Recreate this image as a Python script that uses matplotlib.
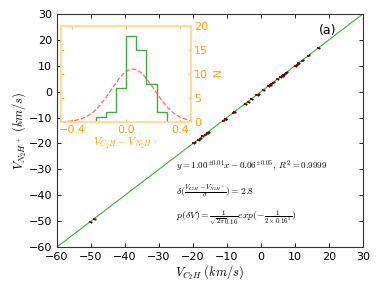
import numpy as np
import matplotlib
matplotlib.use("Agg")
import matplotlib.pyplot as plt

plt.rcParams['mathtext.fontset'] = 'cm'

# velocities (km/s)
v_c2h = [-50.3, -49.1, -19.9, -19.6, -18.6, -18.0, -17.2, -16.5, -16.0, -15.7,
         -11.1, -10.6, -10.5, -8.1, -7.9, -4.7, -3.9, -2.8, -1.3, -1.0,
         0.7, 2.1, 2.6, 3.1, 3.6, 4.8, 5.6, 6.1, 6.5, 7.0, 7.3,
         10.0, 10.5, 11.0, 12.0, 13.9, 16.8]
v_n2h = [-50.4, -49.2, -20.0, -19.7, -18.7, -18.1, -17.3, -16.6, -16.0, -15.8,
         -11.2, -10.7, -10.6, -8.1, -8.0, -4.8, -4.0, -2.9, -1.4, -1.1,
         0.6, 2.0, 2.5, 3.0, 3.5, 4.7, 5.6, 6.0, 6.4, 6.9, 7.2,
         9.9, 10.4, 10.9, 11.9, 13.8, 16.7]

# histogram of velocity differences
bin_edges = [-0.225, -0.15, -0.075, 0.0, 0.075, 0.15, 0.225, 0.30]
bin_counts = [1, 2, 7, 18, 15, 8, 2]

# gaussian fit parameters
g_amp, g_mu, g_sigma = 11.0, 0.05, 0.16

green = '#44aa44'
orange = '#ffa500'

fig = plt.figure(figsize=(3.82, 2.91), dpi=100)
ax = fig.add_axes([0.149, 0.151, 0.801, 0.801])

lim = [-60, 30]
ax.plot(lim, lim, color=green, lw=0.8, zorder=1)
ax.scatter(v_c2h, v_n2h, s=4, marker='s', color='#b00000', zorder=2, linewidths=0)
ax.scatter(np.array(v_c2h) + 0.3, np.array(v_n2h) + 0.2, s=2.5, color='#202020', zorder=3, linewidths=0)
ax.set_xlim(lim)
ax.set_ylim(lim)
ax.set_xticks(range(-60, 31, 10))
ax.set_yticks(range(-60, 31, 10))
ax.tick_params(direction='in', top=True, right=True, labelsize=8, length=3, width=0.6)
for s in ax.spines.values():
    s.set_linewidth(0.8)
    s.set_color('#333333')
ax.set_xlabel(r'$V_{C_2H}\ (km/s)$', fontsize=9, labelpad=1)
ax.set_ylabel(r'$V_{N_2H^+}\ (km/s)$', fontsize=9, labelpad=0)

ax.text(19.6, 23.8, '(a)', fontsize=9, ha='center', va='center')
ax.text(-25, -28.7, r'$y=1.00^{\pm0.01}x-0.06^{\pm0.05},\ R^2=0.9999$', fontsize=6.5, va='center')
ax.text(-25, -38.6, r'$\delta(\frac{V_{C_2H}-V_{N_2H^+}}{\sigma})=2.8$', fontsize=7, va='center')
ax.text(-25, -49.0, r'$p(\delta V)=\frac{1}{\sqrt{2\pi}0.16}exp(-\frac{1}{2\times0.16^2})$', fontsize=7, va='center')

# inset histogram
ins = fig.add_axes([0.160, 0.581, 0.340, 0.330])
ins.stairs(bin_counts, bin_edges, color=green, lw=1.0)
xg = np.linspace(-0.48, 0.48, 200)
ins.plot(xg, g_amp * np.exp(-(xg - g_mu) ** 2 / (2 * g_sigma ** 2)), '--', color='#ff4444', lw=0.9, alpha=0.8)
ins.set_xlim(-0.48, 0.48)
ins.set_ylim(0, 20)
ins.set_xticks([-0.4, 0.0, 0.4])
ins.set_yticks([0, 5, 10, 15, 20])
ins.yaxis.tick_right()
ins.yaxis.set_label_position('right')
ins.tick_params(direction='in', top=True, left=True, right=True, labelsize=8,
                colors=orange, length=2, width=0.5, pad=2)
for s in ins.spines.values():
    s.set_color('#ffd88a')
    s.set_linewidth(1.2)
ins.set_xlabel(r'$V_{C_2H}-V_{N_2H^+}$', color=orange, fontsize=8, labelpad=1)
ins.set_ylabel('N', color=orange, fontsize=8, rotation=270, labelpad=8)

fig.savefig('out.png', dpi=100)
